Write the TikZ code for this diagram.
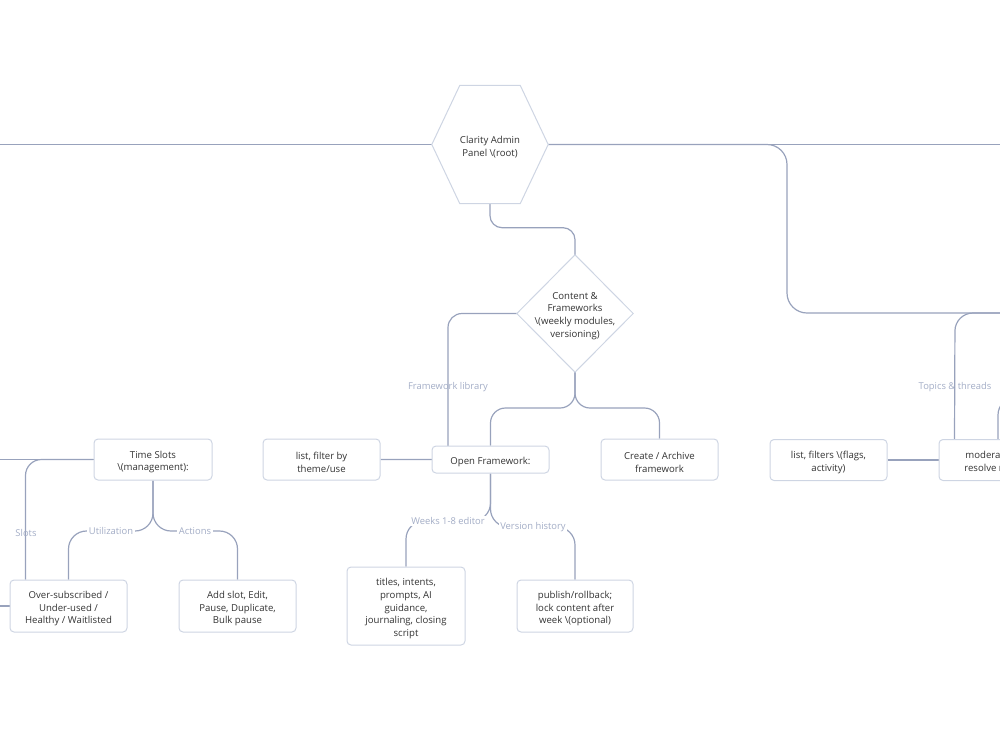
\documentclass[tikz,border=0pt]{standalone}
\usepackage{fontspec}
\setmainfont{Open Sans}
\definecolor{edgec}{HTML}{98A2BC}
\definecolor{boxc}{HTML}{CED5E3}
\definecolor{txtc}{HTML}{333333}
\definecolor{lblc}{HTML}{A3ADC6}
\pgfdeclarelayer{bg}
\pgfdeclarelayer{shp}
\pgfsetlayers{bg,shp,main}
\begin{document}
\begin{tikzpicture}[x=1pt,y=-1pt,
  txt/.style={text=txtc, align=center, inner sep=0pt, yshift=-2.5pt, font=\fontsize{9.6}{12.8}\selectfont},
  box/.style={draw=boxc, line width=1pt, rounded corners=4pt, fill=white, inner sep=0pt, minimum width=117pt},
  shpnode/.style={draw=none, inner sep=0pt, minimum width=116pt},
  outline/.style={draw=boxc, line width=1pt, fill=white},
  conn/.style={draw=edgec, line width=1.2pt, rounded corners=18pt},
  lbl/.style={text=lblc, inner sep=1.5pt, font=\fontsize{9.4}{12}\selectfont},
  lblw/.style={lbl, fill=white}]
\useasboundingbox (0,0) rectangle (1000,750);
\clip (0,0) rectangle (1000,750);

% shaped nodes
\node[shpnode, minimum height=118pt, label={[txt]center:{Clarity Admin\\Panel \textbackslash(root)}}] (root) at (490,144.5) {};
\node[shpnode, minimum height=117pt, label={[txt]center:{Content \&\\Frameworks\\\textbackslash(weekly modules,\\versioning)}}] (cf) at (575,313.5) {};
\begin{pgfonlayer}{shp}
\draw[outline] (root.west) -- ([xshift=28pt]root.north west) -- ([xshift=-28pt]root.north east)
  -- (root.east) -- ([xshift=-28pt]root.south east) -- ([xshift=28pt]root.south west) -- cycle;
\draw[outline] (cf.north) -- (cf.east) -- (cf.south) -- (cf.west) -- cycle;
\end{pgfonlayer}

% boxes
\node[box, minimum height=41pt, minimum width=118pt, label={[txt]center:{Time Slots\\\textbackslash(management):}}] (ts) at (153,459.5) {};
\node[box, minimum height=52pt, label={[txt]center:{Over-subscribed /\\Under-used /\\Healthy / Waitlisted}}] (os) at (68.5,606) {};
\node[box, minimum height=52pt, label={[txt]center:{Add slot, Edit,\\Pause, Duplicate,\\Bulk pause}}] (add) at (237.5,606) {};
\node[box, minimum height=41pt, label={[txt]center:{list, filter by\\theme/use}}] (list1) at (321.5,459.5) {};
\node[box, minimum height=27pt, label={[txt]center:{Open Framework:}}] (of) at (490.5,459.5) {};
\node[box, minimum height=41pt, label={[txt]center:{Create / Archive\\framework}}] (create) at (659.5,459.5) {};
\node[box, minimum height=78pt, minimum width=118pt, label={[txt]center:{titles, intents,\\prompts, AI\\guidance,\\journaling, closing\\script}}] (titles) at (406,606) {};
\node[box, minimum height=52pt, minimum width=116pt, label={[txt]center:{publish/rollback;\\lock content after\\week \textbackslash(optional)}}] (publish) at (575,606) {};
\node[box, minimum height=41pt, label={[txt]center:{list, filters \textbackslash(flags,\\activity)}}] (list2) at (828.5,460) {};
\node[box, minimum height=41pt, minimum width=118pt, label={[txt]center:{moderate, pin,\\resolve reports}}] (mod) at (998,460) {};

% free ends
\coordinate (eL1) at (-10,144.5);
\coordinate (eR1) at (1010,144.5);
\coordinate (eR2) at (1010,313);
\coordinate (eR3) at (1030,397);
\coordinate (eL2) at (-10,459.5);
\coordinate (eL3) at (-10,606);

% connectors
\begin{pgfonlayer}{bg}
\draw[conn] (root.west) -- (eL1);
\draw[conn] (root.east) -- (eR1);
\draw[conn, rounded corners=20pt] (root.east) -- (787,144.5) -- (787,313) -- (eR2);
\draw[conn] (eR2) -- (955,313) -- ([xshift=16pt]mod.north west);
\draw[conn] (mod.north) -- (mod.north |- eR3) -- (eR3);
\draw[conn] (list2.east) -- (mod.west);
\draw[conn, rounded corners=12pt] (root.south) -- ++(0,24) -| (cf.north);
\draw[conn, rounded corners=14pt] (cf.west) -| (448,459.5) -- (list1.east);
\draw[conn, rounded corners=15pt] (cf.south) -- (575,408) -| (of.north);
\draw[conn, rounded corners=15pt] (cf.south) -- (575,408) -| (create.north);
\draw[conn] (of.south) -- (490.5,521) -| (titles.north);
\draw[conn] (of.south) -- (490.5,527) -| (publish.north);
\draw[conn] (ts.south) -- (153,531) -| (os.north);
\draw[conn] (ts.south) -- (153,531) -| (add.north);
\draw[conn] (eL2) -- (ts.west);
\draw[conn, rounded corners=16pt] (ts.west) -| ([xshift=16pt]os.north west);
\draw[conn] (eL3) -- (os.west);
\end{pgfonlayer}

% edge labels
\node[lbl] (lfl) at (448,387) {Framework library};
\node[lbl] (ltt) at (955,387) {Topics \& threads};
\node[lbl] (lsl) at (26,533) {Slots};
\node[lblw] (lut) at (111,531) {Utilization};
\node[lblw] (lac) at (195,531) {Actions};
\node[lblw] (lwk) at (448,521) {Weeks 1-8 editor};
\node[lblw] (lvh) at (533,527) {Version history};
\end{tikzpicture}
\end{document}
